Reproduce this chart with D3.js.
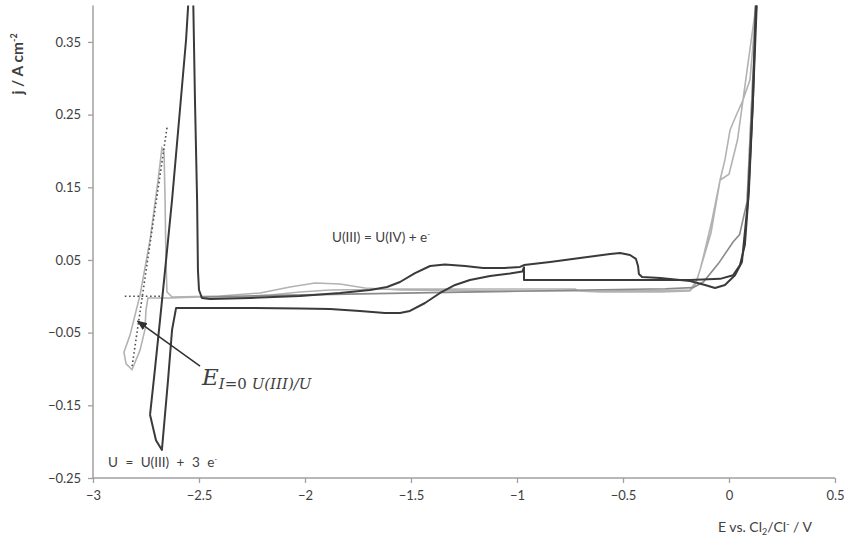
<!DOCTYPE html>
<html>
<head>
<meta charset="utf-8">
<script src="https://cdn.jsdelivr.net/npm/d3@7"></script>
<style>
  body { margin: 0; background: #fff; }
  svg text { font-family: Lato, "Open Sans", sans-serif; fill: #404040; }
</style>
</head>
<body>
<div id="chart"></div>
<script>
// potentials (V vs Cl2/Cl-) and current densities (A cm-2)

// dark scan, cathodic half (from +0.13 V down to the vertex)
const darkCatE = [0.132, 0.113, 0.094, 0.075, 0.052, 0.019, -0.042, -0.184, -0.396, -0.967, -0.967, -0.975,
  -1.033, -1.127, -1.222, -1.292, -1.363, -1.434, -1.505, -1.552, -1.623, -1.741, -1.882, -2.024, -2.259,
  -2.608, -2.627, -2.646, -2.675, -2.703, -2.731];
const darkCatJ = [0.41, 0.270, 0.146, 0.071, 0.043, 0.029, 0.024, 0.0225, 0.0225, 0.0225, 0.040, 0.034,
  0.0314, 0.028, 0.0225, 0.0156, 0.0046, -0.0092, -0.0202, -0.023, -0.023, -0.0202, -0.0174, -0.0168, -0.016,
  -0.016, -0.046, -0.115, -0.2115, -0.198, -0.163];

// dark scan, anodic half (vertex back to +0.13 V)
const darkAnE = [-2.731, -2.708, -2.684, -2.660, -2.627, -2.590, -2.561, -2.547, -2.528, -2.519, -2.509, -2.505,
  -2.500, -2.486, -2.448, -2.259, -2.024, -1.835, -1.693, -1.613, -1.552, -1.481, -1.410, -1.340, -1.245,
  -1.160, -1.057, -0.986, -0.967, -0.844, -0.703, -0.561, -0.514, -0.467, -0.439, -0.429, -0.425, -0.410,
  -0.325, -0.184, -0.113, -0.066, -0.019, 0.028, 0.061, 0.090, 0.113, 0.127];
const darkAnJ = [-0.163, -0.101, -0.033, 0.036, 0.133, 0.256, 0.353, 0.42, 0.42, 0.270, 0.133, 0.036,
  0.0087, -0.0023, -0.0037, -0.0023, 0.0005, 0.0046, 0.0087, 0.0128, 0.0197, 0.032, 0.0417, 0.0438, 0.0417,
  0.039, 0.039, 0.0404, 0.043, 0.0472, 0.0527, 0.0582, 0.0596, 0.0569, 0.0514, 0.0417, 0.0307, 0.0266,
  0.0252, 0.0211, 0.0156, 0.0115, 0.0156, 0.029, 0.0472, 0.133, 0.270, 0.41];

// light grey scan (short vertex at -2.85 V)
const lightE = [0.132, 0.099, 0.066, 0.028, 0.005, -0.019, -0.042, -0.080, -0.113, -0.137, -0.160, -0.184,
  -0.325, -0.608, -0.712, -0.726, -1.080, -1.552, -1.882, -2.024, -2.165, -2.307, -2.495, -2.637, -2.741,
  -2.750, -2.755, -2.778, -2.816, -2.844, -2.854, -2.825, -2.778, -2.731, -2.693, -2.675, -2.665, -2.660,
  -2.656, -2.651, -2.627, -2.401, -2.212, -2.071, -1.953, -1.835, -1.717, -1.552, -1.080, -0.608, -0.184,
  -0.151, -0.085, -0.042, 0.000, 0.040, 0.080, 0.132];
const lightJ = [0.41, 0.298, 0.270, 0.245, 0.229, 0.188, 0.160, 0.105, 0.064, 0.036, 0.0156, 0.0073,
  0.006, 0.006, 0.0073, 0.010, 0.010, 0.010, 0.0087, 0.006, 0.0018, -0.001, -0.001, -0.0023, -0.0023,
  -0.0188, -0.046, -0.074, -0.101, -0.093, -0.077, -0.053, 0.002, 0.0775, 0.160, 0.204, 0.1986, 0.133,
  0.050, 0.006, -0.001, 0.0005, 0.0046, 0.0128, 0.0183, 0.017, 0.0115, 0.0087, 0.0073, 0.0073, 0.0087,
  0.0225, 0.087, 0.160, 0.168, 0.215, 0.300, 0.41];

// medium grey scan
const midE = [-2.495, -2.2, -1.8, -1.4, -1.0, -0.6, -0.3, -0.17, -0.12, -0.05, 0.02, 0.05, 0.085, 0.112, 0.132];
const midJ = [-0.001, 0.001, 0.003, 0.005, 0.007, 0.009, 0.0105, 0.012, 0.020, 0.045, 0.075, 0.085, 0.130, 0.300, 0.41];

// tangent construction (dotted)
const baseE = [-2.85, -2.68];
const baseJ = [0, 0];
const tanE = [-2.651, -2.816];
const tanJ = [0.232, -0.097];

const xTicks = [-3, -2.5, -2, -1.5, -1, -0.5, 0, 0.5];
const yTicks = [-0.25, -0.15, -0.05, 0.05, 0.15, 0.25, 0.35];

const W = 849, H = 547;
const margin = {left: 93, right: 14, top: 5.6, bottom: 69};

const svg = d3.select("#chart").append("svg")
  .attr("width", W).attr("height", H);

const x = d3.scaleLinear().domain([-3, 0.5]).range([margin.left, W - margin.right]);
const y = d3.scaleLinear().domain([-0.25, 0.40]).range([H - margin.bottom, margin.top]);

svg.append("defs").append("clipPath").attr("id", "plot")
  .append("rect")
  .attr("x", margin.left).attr("y", margin.top)
  .attr("width", x(0.5) - x(-3)).attr("height", y(-0.25) - y(0.40));

svg.select("defs").append("marker")
  .attr("id", "arrow").attr("viewBox", "0 0 10 10")
  .attr("refX", 9).attr("refY", 5)
  .attr("markerWidth", 7).attr("markerHeight", 7)
  .attr("orient", "auto")
  .append("path").attr("d", "M0,1 L10,5 L0,9 Z").attr("fill", "#303030");

// axes
const xAxis = d3.axisBottom(x).tickValues(xTicks).tickSize(5).tickFormat(d3.format(""));
const yAxis = d3.axisLeft(y).tickValues(yTicks).tickSize(5).tickFormat(d3.format(".2f"));

const gx = svg.append("g").attr("transform", `translate(0,${y(-0.25)})`).call(xAxis);
const gy = svg.append("g").attr("transform", `translate(${x(-3)},0)`).call(yAxis);

[gx, gy].forEach(g => {
  g.select(".domain").attr("stroke", "#a0a0a0").attr("stroke-width", 1.5);
  g.selectAll(".tick line").attr("stroke", "#a0a0a0").attr("stroke-width", 1.3);
  g.selectAll(".tick text").attr("font-size", 13).attr("fill", "#404040")
    .style("font-family", "Lato, sans-serif");
});
gx.selectAll(".tick text").attr("dy", "1.05em");
gy.selectAll(".tick text").attr("dx", "-0.3em");
// the domain path must reach the very top of the plot
gy.select(".domain").attr("d", `M0,${y(-0.25)}V${margin.top}`);
gx.select(".domain").attr("d", `M${x(-3)},0H${x(0.5)}`);

// curves
const line = d3.line().x(d => x(d[0])).y(d => y(d[1]));
const zip = (a, b) => a.map((v, i) => [v, b[i]]);

const plot = svg.append("g").attr("clip-path", "url(#plot)");

plot.append("path").datum(zip(lightE, lightJ))
  .attr("d", line).attr("fill", "none").attr("stroke", "#b2b2b2").attr("stroke-width", 1.6);

plot.append("path").datum(zip(midE, midJ))
  .attr("d", line).attr("fill", "none").attr("stroke", "#8a8a8a").attr("stroke-width", 1.6);

plot.append("path").datum(zip(darkCatE, darkCatJ))
  .attr("d", line).attr("fill", "none").attr("stroke", "#3a3a3a").attr("stroke-width", 2)
  .attr("stroke-linejoin", "round");

plot.append("path").datum(zip(darkAnE, darkAnJ))
  .attr("d", line).attr("fill", "none").attr("stroke", "#3a3a3a").attr("stroke-width", 2)
  .attr("stroke-linejoin", "round");

// dotted tangents
[[baseE, baseJ], [tanE, tanJ]].forEach(([e, j]) => {
  plot.append("path").datum(zip(e, j))
    .attr("d", line).attr("fill", "none").attr("stroke", "#505050")
    .attr("stroke-width", 1.6).attr("stroke-dasharray", "1.6,2.6");
});

// annotations
svg.append("line")
  .attr("x1", x(-2.495)).attr("y1", y(-0.096))
  .attr("x2", x(-2.79)).attr("y2", y(-0.034))
  .attr("stroke", "#303030").attr("stroke-width", 1.5)
  .attr("marker-end", "url(#arrow)");

const eLab = svg.append("text")
  .attr("x", 202).attr("y", 385)
  .style("font-family", "'DejaVu Serif', serif").style("font-style", "italic")
  .attr("fill", "#303030");
eLab.append("tspan").attr("font-size", 23).text("E");
eLab.append("tspan").attr("font-size", 15).attr("dy", 4).text("I");
eLab.append("tspan").attr("font-size", 15).style("font-style", "normal").text("=0 ");
eLab.append("tspan").attr("font-size", 15).text("U(III)/U");

svg.append("text").attr("x", 332).attr("y", 242).attr("font-size", 13.5)
  .text("U(III) = U(IV) + e").append("tspan").attr("dy", -5).attr("font-size", 8).text("-");

svg.append("text").attr("x", 108).attr("y", 467).attr("font-size", 13.5).attr("word-spacing", 4)
  .text("U = U(III) + 3 e").append("tspan").attr("dy", -5).attr("font-size", 8).text("-");

// axis titles
const xt = svg.append("text").attr("x", 718).attr("y", 532).attr("font-size", 14);
xt.append("tspan").text("E vs. Cl");
xt.append("tspan").attr("dy", 3).attr("font-size", 9).text("2");
xt.append("tspan").attr("dy", -3).text("/Cl");
xt.append("tspan").attr("dy", -5).attr("font-size", 9).text("-");
xt.append("tspan").attr("dy", 5).text(" / V");

const yt = svg.append("text")
  .attr("transform", "translate(23,64) rotate(-90)")
  .attr("text-anchor", "middle").attr("font-size", 15.5).attr("font-weight", "bold");
yt.append("tspan").text("j / A cm");
yt.append("tspan").attr("dy", -6).attr("font-size", 9).text("-2");
</script>
</body>
</html>
